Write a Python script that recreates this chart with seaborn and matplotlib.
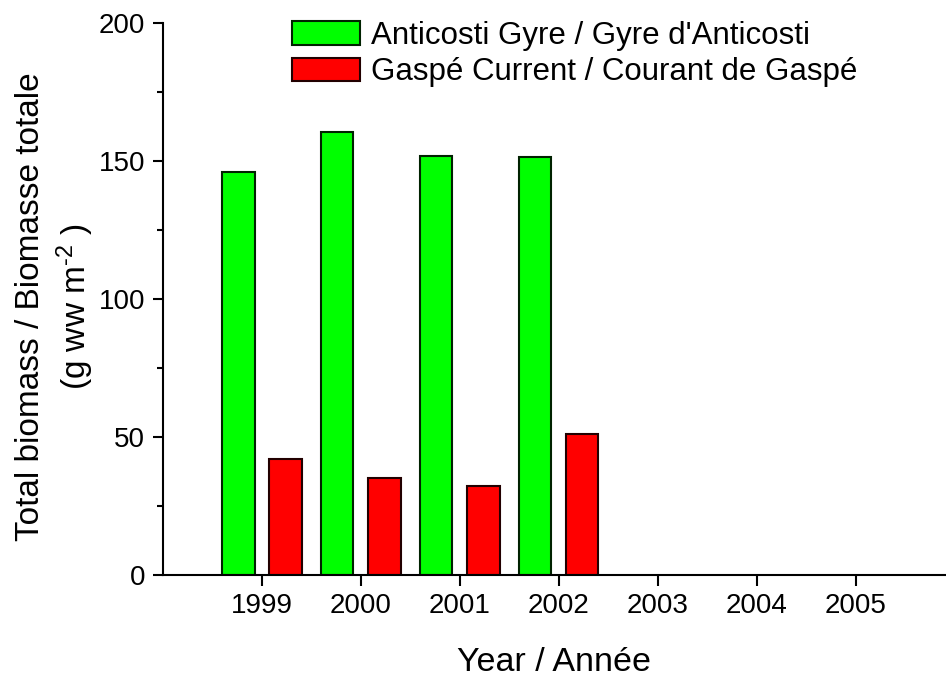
import matplotlib
matplotlib.use("Agg")
import matplotlib.pyplot as plt
from matplotlib.ticker import MultipleLocator
import seaborn as sns
import pandas as pd

# Total biomass per year and water mass
years = ["1999", "2000", "2001", "2002", "2003", "2004", "2005"]
sampled_years = ["1999", "2000", "2001", "2002"]
anticosti = [145.9, 160.3, 151.7, 151.3]
gaspe = [41.9, 35.3, 32.4, 51.1]
series_names = ["Anticosti Gyre / Gyre d'Anticosti",
                "Gaspé Current / Courant de Gaspé"]

df = pd.DataFrame({
    "year": sampled_years * 2,
    "biomass": anticosti + gaspe,
    "region": [series_names[0]] * len(sampled_years) + [series_names[1]] * len(sampled_years),
})

sns.set_style("ticks")
plt.rcParams["font.family"] = ["Liberation Sans", "DejaVu Sans"]
plt.rcParams["mathtext.fontset"] = "custom"
plt.rcParams["mathtext.rm"] = "Liberation Sans"
plt.rcParams["mathtext.it"] = "Liberation Sans:italic"
plt.rcParams["text.color"] = "black"
plt.rcParams["axes.labelcolor"] = "black"
plt.rcParams["xtick.color"] = "black"
plt.rcParams["ytick.color"] = "black"

fig = plt.figure(figsize=(9.46, 6.81), dpi=100)
ax = fig.add_axes([163 / 946, 1 - 575 / 681, (945.5 - 163) / 946, (575 - 22.7) / 681])

sns.barplot(data=df, x="year", y="biomass", hue="region", order=years,
            hue_order=series_names, palette=["#00ff00", "#ff0000"], saturation=1,
            width=0.95, gap=0.318, legend=False, ax=ax, linewidth=1.5)

edge_colors = ["#002200", "#220000"]
for cont, ec in zip(ax.containers, edge_colors):
    for p in cont.patches:
        p.set_edgecolor(ec)
        p.set_linewidth(1.5)

ax.set_xlim(-1, 6.905)
ax.set_ylim(0, 200)
ax.yaxis.set_major_locator(MultipleLocator(50))
ax.yaxis.set_minor_locator(MultipleLocator(25))

for side in ("top", "right"):
    ax.spines[side].set_visible(False)
for side in ("left", "bottom"):
    ax.spines[side].set_linewidth(1.5)
    ax.spines[side].set_color("black")

ax.tick_params(axis="y", which="major", length=7, width=1.5, labelsize=20, pad=6, direction="out")
ax.tick_params(axis="y", which="minor", length=4, width=1.5, direction="out")
ax.tick_params(axis="x", which="major", length=8, width=1.5, labelsize=20, pad=5, direction="out")

ax.set_xlabel("Year / Année", fontsize=24.5, labelpad=20)
ax.set_ylabel("Total biomass / Biomasse totale\n(g ww m$^{\\text{-2}}$ )", fontsize=24,
              linespacing=1.3)
ax.yaxis.set_label_coords(-0.085, 0.486)

ax.legend(ax.containers, series_names, loc="upper left",
          bbox_to_anchor=(292 / 946, 1 - 21 / 681), bbox_transform=fig.transFigure,
          frameon=False, fontsize=22.5, handlelength=2.17, handleheight=0.77,
          handletextpad=0.35, labelspacing=0.2, borderpad=0, borderaxespad=0)

fig.savefig("out.png", dpi=100)
